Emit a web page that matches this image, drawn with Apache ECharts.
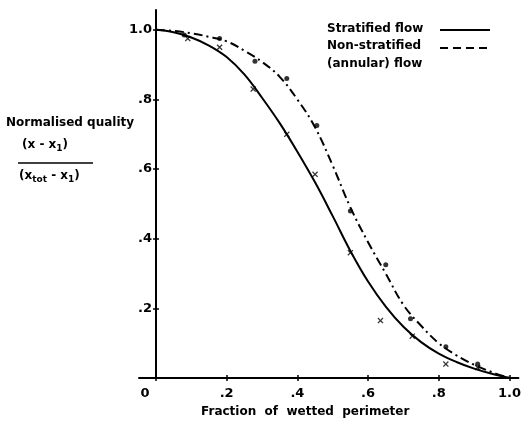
<!DOCTYPE html>
<html>
<head>
<meta charset="utf-8">
<script src="https://cdn.jsdelivr.net/npm/echarts@6/dist/echarts.min.js"></script>
<style>
  html, body { margin: 0; padding: 0; background: #fff; }
  #container { width: 524px; height: 423px; }
</style>
</head>
<body>
<div id="container"></div>
<script>
// fitted curves: [fraction, quality]
var stratifiedCurve = [
    [0, 1.0], [0.05, 0.993], [0.1, 0.978], [0.15, 0.955], [0.2, 0.922],
    [0.25, 0.872], [0.3, 0.805], [0.35, 0.732], [0.4, 0.65], [0.45, 0.562],
    [0.5, 0.465], [0.55, 0.365], [0.6, 0.277], [0.65, 0.205], [0.7, 0.147],
    [0.75, 0.103], [0.8, 0.07], [0.85, 0.046], [0.9, 0.027], [0.95, 0.012],
    [1.0, 0.0]
];
var annularCurve = [
    [0, 1.0], [0.05, 0.997], [0.1, 0.99], [0.15, 0.98], [0.2, 0.967],
    [0.25, 0.94], [0.3, 0.908], [0.35, 0.865], [0.4, 0.80], [0.45, 0.72],
    [0.5, 0.61], [0.55, 0.49], [0.6, 0.39], [0.65, 0.30], [0.7, 0.21],
    [0.75, 0.15], [0.8, 0.10], [0.85, 0.065], [0.9, 0.038], [0.95, 0.017],
    [1.0, 0.0]
];
// measured points
var stratifiedPts = [
    [0.09, 0.975], [0.18, 0.95], [0.275, 0.83], [0.37, 0.70], [0.45, 0.585],
    [0.55, 0.36], [0.635, 0.165], [0.725, 0.12], [0.82, 0.04], [0.91, 0.03]
];
var annularPts = [
    [0.08, 0.985], [0.18, 0.975], [0.28, 0.91], [0.37, 0.86], [0.455, 0.725],
    [0.55, 0.48], [0.65, 0.325], [0.72, 0.17], [0.82, 0.09], [0.91, 0.04]
];
var xTicks = [0, 0.2, 0.4, 0.6, 0.8, 1.0];
var yTicks = [0.2, 0.4, 0.6, 0.8, 1.0];

var FONT = '"DejaVu Sans", "Liberation Sans", sans-serif';
var crossPath = 'path://M1.5,0L5,3.5L8.5,0L10,1.5L6.5,5L10,8.5L8.5,10L5,6.5L1.5,10L0,8.5L3.5,5L0,1.5Z';

function fmt(v) {
    if (v === 0) return '{z|0}';
    if (v === 1) return '1.0';
    return '.' + Math.round(v * 10);
}

var axisCommon = {
    type: 'value',
    splitLine: { show: false },
    axisLine: { show: true, onZero: true, lineStyle: { color: '#000', width: 2 } }
};

var option = {
    backgroundColor: '#fff',
    animation: false,
    grid: { left: 139, right: 4, top: 10, bottom: 43 },
    xAxis: [
        Object.assign({}, axisCommon, {
            min: -0.048, max: 1.0254,
            name: 'Fraction  of  wetted  perimeter',
            nameLocation: 'middle',
            nameGap: 28,
            nameTextStyle: { fontFamily: FONT, fontWeight: 'bold', fontSize: 12, color: '#000', padding: [0, 47, 0, 0] },
            axisTick: { show: true, length: 3, customValues: xTicks, lineStyle: { color: '#000', width: 1.5 } },
            axisLabel: {
                customValues: xTicks, formatter: fmt, margin: 9,
                fontFamily: FONT, fontWeight: 'bold', fontSize: 13, color: '#000',
                rich: { z: { fontFamily: FONT, fontWeight: 'bold', fontSize: 13, color: '#000', padding: [0, 22, 0, 0] } }
            }
        }),
        Object.assign({}, axisCommon, {
            min: -0.048, max: 1.0254, position: 'bottom',
            axisLine: { show: false },
            axisTick: { show: true, inside: true, length: 3, customValues: xTicks, lineStyle: { color: '#000', width: 1.5 } },
            axisLabel: { show: false }
        })
    ],
    yAxis: [
        Object.assign({}, axisCommon, {
            min: 0, max: 1.057,
            axisTick: { show: true, length: 3, customValues: yTicks, lineStyle: { color: '#000', width: 1.5 } },
            axisLabel: {
                customValues: yTicks, formatter: fmt, margin: -13,
                fontFamily: FONT, fontWeight: 'bold', fontSize: 13, color: '#000'
            }
        }),
        Object.assign({}, axisCommon, {
            min: 0, max: 1.057, position: 'left',
            axisLine: { show: false, onZero: true },
            axisTick: { show: true, inside: true, length: 3, customValues: yTicks, lineStyle: { color: '#000', width: 1.5 } },
            axisLabel: { show: false }
        })
    ],
    series: [
        {
            name: 'Stratified flow', type: 'line', data: stratifiedCurve,
            smooth: 0.4, showSymbol: false,
            lineStyle: { color: '#000', width: 2 }
        },
        {
            name: 'Non-stratified', type: 'line', data: annularCurve,
            smooth: 0.4, showSymbol: false,
            lineStyle: { color: '#000', width: 2, type: [9, 4, 2, 4] }
        },
        {
            type: 'scatter', data: stratifiedPts, symbol: crossPath, symbolSize: 6,
            itemStyle: { color: '#000' }
        },
        {
            type: 'scatter', data: annularPts, symbol: 'circle', symbolSize: 5,
            itemStyle: { color: '#000' }
        }
    ],
    graphic: [
        // y axis title
        { type: 'text', left: 6, top: 117, style: { text: 'Normalised quality', font: 'bold 12px ' + FONT, fill: '#000' } },
        { type: 'text', left: 22, top: 139, style: {
            text: '{n|(x - x}{s|1}{n|)}', fill: '#000',
            rich: { n: { font: 'bold 12px ' + FONT }, s: { font: 'bold 9px ' + FONT, padding: [7, 0, 0, 0] } }
        } },
        { type: 'line', shape: { x1: 18, y1: 163, x2: 93, y2: 163 }, style: { stroke: '#000', lineWidth: 1.5 } },
        { type: 'text', left: 19, top: 170, style: {
            text: '{n|(x}{s|tot}{n| - x}{s|1}{n|)}', fill: '#000',
            rich: { n: { font: 'bold 12px ' + FONT }, s: { font: 'bold 9px ' + FONT, padding: [7, 0, 0, 0] } }
        } },
        // legend
        { type: 'text', left: 327, top: 23, style: { text: 'Stratified flow', font: 'bold 12px ' + FONT, fill: '#000' } },
        { type: 'line', shape: { x1: 440, y1: 30, x2: 490, y2: 30 }, style: { stroke: '#000', lineWidth: 2 } },
        { type: 'text', left: 327, top: 40, style: { text: 'Non-stratified', font: 'bold 12px ' + FONT, fill: '#000' } },
        { type: 'line', shape: { x1: 440, y1: 48, x2: 490, y2: 48 }, style: { stroke: '#000', lineWidth: 2, lineDash: [8, 5] } },
        { type: 'text', left: 327, top: 58, style: { text: '(annular) flow', font: 'bold 12px ' + FONT, fill: '#000' } }
    ]
};

var myChart = echarts.init(document.getElementById('container'));
myChart.setOption(option);
</script>
</body>
</html>
